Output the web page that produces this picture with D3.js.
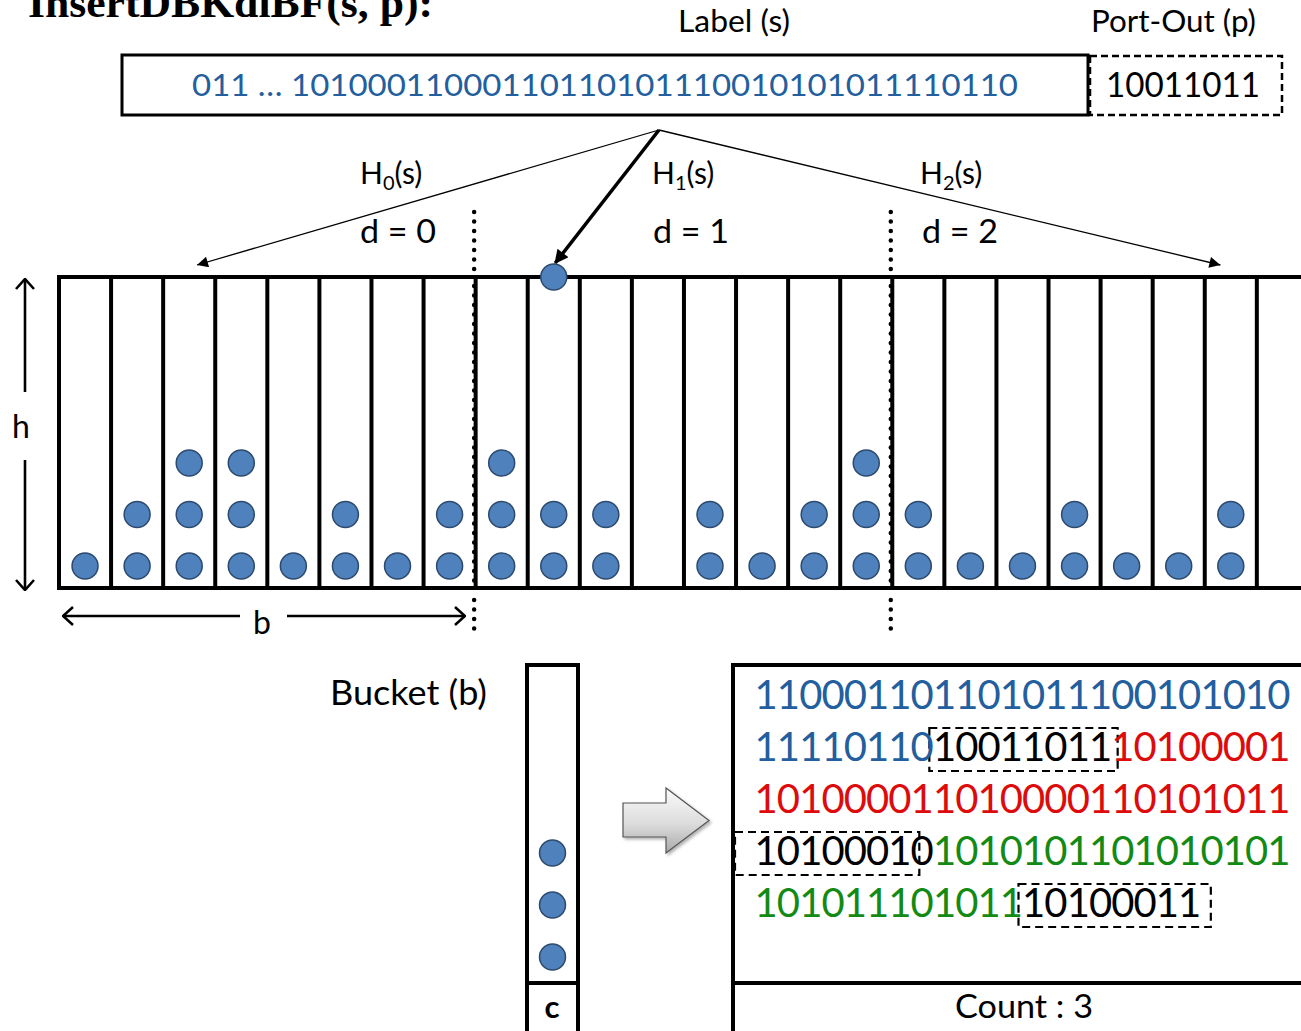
<!DOCTYPE html>
<html>
<head>
<meta charset="utf-8">
<script src="https://cdn.jsdelivr.net/npm/d3@7"></script>
<style>
  html, body { margin: 0; padding: 0; background: #fff; }
  svg { display: block; }
  text { font-family: Lato, "Open Sans", sans-serif; }
</style>
</head>
<body>
<svg id="chart" width="1301" height="1031"></svg>
<script>
// ---------------- DATA ----------------
const titleText = "InsertDBKdlBF(s, p):";
const labelCaption = "Label (s)";
const portCaption = "Port-Out (p)";
const labelBits = "011 \u2026 10100011000110110101110010101011110110";
const portBits = "10011011";
const subtableIds = [0, 1, 2];
// number of stored items (balls) in each of the 8 buckets of every sub-table
const countsD0 = [1, 2, 3, 3, 1, 2, 1, 2];
const countsD1 = [3, 2, 2, 0, 2, 1, 2, 3];
const countsD2 = [2, 1, 1, 2, 1, 1, 2, 0];
const insertTarget = { d: 1, cell: 1 };
const bucketLabel = "Bucket (b)";
const bucketItems = 3;
const countLabel = "Count : 3";
// contents of the bucket, row by row: [bits, kind]
const bucketRow1 = [["110001101101011100101010", "fp0"]];
const bucketRow2 = [["11110110", "fp0"], ["10011011", "port"], ["10100001", "fp1"]];
const bucketRow3 = [["101000011010000110101011", "fp1"]];
const bucketRow4 = [["10100010", "port"], ["1010101101010101", "fp2"]];
const bucketRow5 = [["101011101011", "fp2"], ["10100011", "port"]];

// ---------------- STYLE / LAYOUT ----------------
const svg = d3.select("#chart");
const colors = { fp0: "#235f9e", fp1: "#dd0b0b", fp2: "#138a13", port: "#000" };
const ballFill = "#4f81bd", ballStroke = "#2c4a6e";
const cellsPer = 8;
const arrLeft = 59, cellW = 52.08, arrTop = 277, arrBot = 588;

const defs = svg.append("defs");
defs.append("marker").attr("id", "tri").attr("viewBox", "0 0 10 10")
  .attr("refX", 10).attr("refY", 5).attr("markerWidth", 16).attr("markerHeight", 11)
  .attr("markerUnits", "userSpaceOnUse").attr("orient", "auto")
  .append("path").attr("d", "M0,0 L10,5 L0,10 Z").attr("fill", "#000");
defs.append("marker").attr("id", "triBig").attr("viewBox", "0 0 10 10")
  .attr("refX", 9).attr("refY", 5).attr("markerWidth", 18).attr("markerHeight", 14)
  .attr("markerUnits", "userSpaceOnUse").attr("orient", "auto")
  .append("path").attr("d", "M0,0 L10,5 L0,10 Z").attr("fill", "#000");
defs.append("marker").attr("id", "chev").attr("viewBox", "0 0 12 20")
  .attr("refX", 11).attr("refY", 10).attr("markerWidth", 12).attr("markerHeight", 20)
  .attr("markerUnits", "userSpaceOnUse").attr("orient", "auto-start-reverse")
  .append("path").attr("d", "M1,1 L11,10 L1,19").attr("fill", "none")
  .attr("stroke", "#000").attr("stroke-width", 2.6);
const grad = defs.append("linearGradient").attr("id", "gArrow")
  .attr("x1", 0).attr("y1", 0).attr("x2", 0).attr("y2", 1);
grad.append("stop").attr("offset", "0%").attr("stop-color", "#fbfbfb");
grad.append("stop").attr("offset", "55%").attr("stop-color", "#dcdcdc");
grad.append("stop").attr("offset", "100%").attr("stop-color", "#a9a9a9");
const sh = defs.append("filter").attr("id", "shadow").attr("x", "-20%").attr("y", "-20%")
  .attr("width", "150%").attr("height", "150%");
sh.append("feDropShadow").attr("dx", 2).attr("dy", 2).attr("stdDeviation", 1.5)
  .attr("flood-color", "#000").attr("flood-opacity", 0.3);

// ---------------- TITLE ----------------
svg.append("text").attr("x", 28).attr("y", 17)
  .style("font-family", "'Liberation Serif', 'Times New Roman', serif")
  .attr("font-weight", "bold").attr("font-size", 42)
  .attr("textLength", 405).attr("lengthAdjust", "spacingAndGlyphs").text(titleText);

// ---------------- LABEL + PORT ----------------
svg.append("text").attr("x", 678).attr("y", 32).attr("font-size", 30)
  .attr("textLength", 112).attr("lengthAdjust", "spacingAndGlyphs").text(labelCaption);
svg.append("text").attr("x", 1091).attr("y", 32).attr("font-size", 30)
  .attr("textLength", 165).attr("lengthAdjust", "spacingAndGlyphs").text(portCaption);
svg.append("rect").attr("x", 122).attr("y", 55).attr("width", 966).attr("height", 60)
  .attr("fill", "none").attr("stroke", "#000").attr("stroke-width", 3);
svg.append("rect").attr("x", 1090).attr("y", 56).attr("width", 192).attr("height", 59)
  .attr("fill", "none").attr("stroke", "#000").attr("stroke-width", 2.5)
  .attr("stroke-dasharray", "7,4");
svg.append("text").attr("x", 192).attr("y", 96).attr("font-size", 31)
  .attr("fill", colors.fp0).attr("textLength", 826).attr("lengthAdjust", "spacingAndGlyphs")
  .text(labelBits);
svg.append("text").attr("x", 1106).attr("y", 97).attr("font-size", 34)
  .attr("fill", "#000").attr("textLength", 154).attr("lengthAdjust", "spacingAndGlyphs")
  .text(portBits);

// ---------------- ARRAY OF BUCKETS ----------------
const allCounts = [countsD0, countsD1, countsD2];
const nCells = cellsPer * subtableIds.length;
const x = d3.scaleLinear().domain([0, nCells]).range([arrLeft, arrLeft + nCells * cellW]);
const slotY = d3.scaleLinear().domain([0, 1]).range([566, 514.5]);

const g = svg.append("g");
g.selectAll("line.div").data(d3.range(0, nCells + 1)).join("line")
  .attr("x1", d => x(d)).attr("x2", d => x(d))
  .attr("y1", arrTop).attr("y2", arrBot)
  .attr("stroke", "#000").attr("stroke-width", 4);
[arrTop, arrBot].forEach(yy => g.append("line")
  .attr("x1", arrLeft - 2).attr("x2", 1301).attr("y1", yy).attr("y2", yy)
  .attr("stroke", "#000").attr("stroke-width", 4));

// dotted sub-table separators
subtableIds.slice(1).forEach(d => {
  const xx = x(d * cellsPer) - 1.5;
  [[212, 272], [286, 582], [600, 632]].forEach(([a, b]) => {
    svg.append("line").attr("x1", xx).attr("x2", xx).attr("y1", a).attr("y2", b)
      .attr("stroke", "#000").attr("stroke-width", 4.5).attr("stroke-linecap", "round")
      .attr("stroke-dasharray", "0,9.5");
  });
});

// balls
const balls = [];
allCounts.forEach((arr, d) => arr.forEach((n, c) => {
  for (let k = 0; k < n; k++) balls.push({ cell: d * cellsPer + c, slot: k });
}));
g.selectAll("circle.ball").data(balls).join("circle")
  .attr("cx", d => x(d.cell + 0.5)).attr("cy", d => slotY(d.slot)).attr("r", 13)
  .attr("fill", ballFill).attr("stroke", ballStroke).attr("stroke-width", 1.5);

// hash arrows
const src = [659, 130];
const hashTargetCell = [2.65, null, 22.3];
svg.append("line").attr("x1", src[0]).attr("y1", src[1])
  .attr("x2", x(hashTargetCell[0])).attr("y2", 265)
  .attr("stroke", "#000").attr("stroke-width", 1.3).attr("marker-end", "url(#tri)");
svg.append("line").attr("x1", src[0]).attr("y1", src[1])
  .attr("x2", x(hashTargetCell[2])).attr("y2", 265)
  .attr("stroke", "#000").attr("stroke-width", 1.3).attr("marker-end", "url(#tri)");
const insX = x(insertTarget.d * cellsPer + insertTarget.cell + 0.5);
svg.append("line").attr("x1", src[0]).attr("y1", src[1])
  .attr("x2", insX + 1.5).attr("y2", arrTop - 14)
  .attr("stroke", "#000").attr("stroke-width", 3.5).attr("marker-end", "url(#triBig)");
svg.append("circle").attr("cx", insX).attr("cy", arrTop).attr("r", 13)
  .attr("fill", ballFill).attr("stroke", ballStroke).attr("stroke-width", 1.5);

// H labels and d labels
const hLabelX = [360, 652, 920];
const dLabelX = [360, 653, 922];
subtableIds.forEach((d, i) => {
  const t = svg.append("text").attr("x", hLabelX[i]).attr("y", 184).attr("font-size", 30);
  t.append("tspan").text("H");
  t.append("tspan").attr("font-size", 20).attr("dy", 6).text(d);
  t.append("tspan").attr("dy", -6).text("(s)");
  svg.append("text").attr("x", dLabelX[i]).attr("y", 243).attr("font-size", 33)
    .attr("textLength", 76).attr("lengthAdjust", "spacingAndGlyphs")
    .text("d = " + d);
});

// h arrow
svg.append("line").attr("x1", 25).attr("x2", 25).attr("y1", 392).attr("y2", 279)
  .attr("stroke", "#000").attr("stroke-width", 2.6).attr("marker-end", "url(#chev)");
svg.append("line").attr("x1", 25).attr("x2", 25).attr("y1", 460).attr("y2", 590)
  .attr("stroke", "#000").attr("stroke-width", 2.6).attr("marker-end", "url(#chev)");
svg.append("text").attr("x", 21).attr("y", 438).attr("text-anchor", "middle")
  .attr("font-size", 32).text("h");
// b arrow
svg.append("line").attr("x1", 240).attr("x2", 63).attr("y1", 616).attr("y2", 616)
  .attr("stroke", "#000").attr("stroke-width", 2.6).attr("marker-end", "url(#chev)");
svg.append("line").attr("x1", 287).attr("x2", 465).attr("y1", 616).attr("y2", 616)
  .attr("stroke", "#000").attr("stroke-width", 2.6).attr("marker-end", "url(#chev)");
svg.append("text").attr("x", 262).attr("y", 634).attr("text-anchor", "middle")
  .attr("font-size", 32).text("b");

// ---------------- BUCKET DETAIL ----------------
svg.append("text").attr("x", 330).attr("y", 705).attr("font-size", 34)
  .attr("textLength", 157).attr("lengthAdjust", "spacingAndGlyphs").text(bucketLabel);
svg.append("rect").attr("x", 527).attr("y", 665).attr("width", 51).attr("height", 400)
  .attr("fill", "none").attr("stroke", "#000").attr("stroke-width", 4);
svg.append("line").attr("x1", 527).attr("x2", 578).attr("y1", 983).attr("y2", 983)
  .attr("stroke", "#000").attr("stroke-width", 4);
svg.append("text").attr("x", 552).attr("y", 1018).attr("text-anchor", "middle")
  .attr("font-size", 31).attr("font-weight", "bold").text("c");
const bucketY = d3.scaleLinear().domain([0, 1]).range([957, 905]);
svg.selectAll("circle.bk").data(d3.range(bucketItems)).join("circle")
  .attr("cx", 552.5).attr("cy", d => bucketY(d)).attr("r", 13)
  .attr("fill", ballFill).attr("stroke", ballStroke).attr("stroke-width", 1.5);

// gray block arrow
svg.append("path")
  .attr("d", "M623,803 L666,803 L666,788 L709,820.5 L666,853 L666,837 L623,837 Z")
  .attr("fill", "url(#gArrow)").attr("stroke", "#555").attr("stroke-width", 1.2)
  .attr("filter", "url(#shadow)");

// detail box
svg.append("rect").attr("x", 733).attr("y", 665).attr("width", 600).attr("height", 400)
  .attr("fill", "none").attr("stroke", "#000").attr("stroke-width", 4);
svg.append("line").attr("x1", 733).attr("x2", 1301).attr("y1", 983).attr("y2", 983)
  .attr("stroke", "#000").attr("stroke-width", 4);
svg.append("text").attr("x", 955).attr("y", 1018).attr("font-size", 33)
  .attr("textLength", 138).attr("lengthAdjust", "spacingAndGlyphs").text(countLabel);

const rows = [bucketRow1, bucketRow2, bucketRow3, bucketRow4, bucketRow5];
const charX = d3.scaleLinear().domain([0, 24]).range([755, 1290]);
const rowY = d3.scaleLinear().domain([0, 1]).range([709, 761]);
const boxNudge = [null, [-4, 6], null, [-20, -14], [-4, 10]];
const chars = [];
rows.forEach((row, r) => {
  let i = 0;
  row.forEach(([bits, kind]) => {
    const start = i;
    for (const ch of bits) { chars.push({ r, i, ch, kind }); i++; }
    if (kind === "port") {
      const nud = boxNudge[r] || [-8, 6];
      svg.append("rect").attr("x", charX(start) + nud[0]).attr("y", rowY(r) - 33)
        .attr("width", charX(i) - charX(start) - nud[0] + nud[1]).attr("height", 43)
        .attr("fill", "none").attr("stroke", "#000").attr("stroke-width", 2.2)
        .attr("stroke-dasharray", "8,5");
    }
  });
});
svg.selectAll("text.bit").data(chars).join("text")
  .attr("class", "bit")
  .attr("x", d => (charX(d.i) + charX(d.i + 1)) / 2).attr("y", d => rowY(d.r))
  .attr("text-anchor", "middle").attr("font-size", 40)
  .attr("fill", d => colors[d.kind]).text(d => d.ch);
</script>
</body>
</html>
